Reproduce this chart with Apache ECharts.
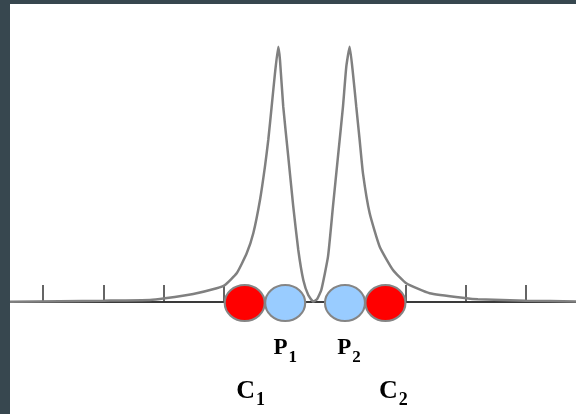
<!DOCTYPE html>
<html>
<head>
<meta charset="utf-8">
<script src="https://cdn.jsdelivr.net/npm/echarts@6/dist/echarts.min.js"></script>
<style>
  html, body { margin: 0; padding: 0; background: #fff; }
  #chart { width: 576px; height: 414px; }
</style>
</head>
<body>
<div id="chart"></div>
<script>
// tick positions along the axis
const tickValues = [-4, -3, -2, -1, 0, 1, 2, 3, 4];

// the double-peak curve (x in tick units, y height above axis)
const curveX = [-4.546, -3.719, -2.99, -2.228, -1.98, -1.512, -1.124, -0.987, -0.793, -0.627, -0.518, -0.407, -0.325,
  -0.27, -0.214, -0.159, -0.104, -0.076, -0.022, 0.061, 0.144, 0.227, 0.31, 0.392, 0.475,
  0.54, 0.608, 0.719, 0.801, 0.884, 0.967, 1.022, 1.078, 1.132, 1.187, 1.243, 1.298, 1.409,
  1.575, 1.795, 2.015, 2.402, 3.008, 3.202, 3.997, 4.825];
const curveY = [0.3, 0.8, 1.3, 2, 3.7, 8, 13.7, 17, 28.7, 48.7, 68.7, 102, 135.3,
  162, 195.3, 228.7, 255.3, 242, 195.3, 145.3, 95.3, 52, 22, 7, 0.5,
  3, 12, 45.3, 95.3, 145.3, 195.3, 235.3, 255.3, 228.7, 195.3, 162, 128.7, 88.7,
  55.3, 32, 18.7, 8.7, 3.7, 2.7, 1.3, 0.5];

// particles sitting on the axis
const particleNames = ['C1', 'P1', 'P2', 'C2'];
const particleX = [-0.66, 0.01, 1.0, 1.67];
const particleY = [-1, -1, -1, -1];

const chart = echarts.init(document.getElementById('chart'));

const curveData = curveX.map((x, i) => [x, curveY[i]]);

// label placement under each ellipse
const labelOffsets = {
  C1: [6, 89],
  P1: [0, 47],
  P2: [4, 47],
  C2: [8, 89]
};

const particleData = particleNames.map((name, i) => {
  const isC = name[0] === 'C';
  return {
    name: name,
    value: [particleX[i], particleY[i]],
    itemStyle: {
      color: isC ? '#ff0000' : '#99ccff'
    },
    label: {
      show: true,
      position: 'inside',
      offset: labelOffsets[name],
      formatter: '{m|' + name[0] + '}{s|' + name.slice(1) + '}',
      rich: {
        m: {
          fontFamily: 'Liberation Serif',
          fontWeight: 'bold',
          fontSize: isC ? 26 : 23,
          color: '#000',
          verticalAlign: 'top',
          lineHeight: isC ? 28 : 26
        },
        s: {
          fontFamily: 'Liberation Serif',
          fontWeight: 'bold',
          fontSize: isC ? 18 : 17,
          color: '#000',
          verticalAlign: 'top',
          lineHeight: 20,
          padding: [isC ? 13 : 12, 0, 0, 1]
        }
      }
    }
  };
});

chart.setOption({
  animation: false,
  backgroundColor: '#fff',
  grid: {
    left: 10,
    right: 0,
    top: 2,
    bottom: 0
  },
  xAxis: {
    type: 'value',
    min: -4.546,
    max: 4.825,
    axisLine: {
      onZero: true,
      lineStyle: { color: '#3a3a3a', width: 2 }
    },
    axisTick: {
      show: true,
      inside: true,
      length: 17,
      customValues: tickValues,
      lineStyle: { color: '#333', width: 1.5 }
    },
    axisLabel: { show: false },
    splitLine: { show: false }
  },
  yAxis: {
    type: 'value',
    min: -112,
    max: 300,
    show: false,
    splitLine: { show: false }
  },
  graphic: [
    {
      type: 'rect',
      left: 0,
      top: 0,
      z: 100,
      shape: { width: 10, height: 414 },
      style: { fill: '#37474f' }
    },
    {
      type: 'rect',
      left: 0,
      top: 0,
      z: 100,
      shape: { width: 576, height: 4 },
      style: { fill: '#37474f' }
    }
  ],
  series: [
    {
      type: 'line',
      data: curveData,
      showSymbol: false,
      smooth: 0.15,
      lineStyle: { color: '#808080', width: 2.5 },
      z: 2
    },
    {
      type: 'scatter',
      data: particleData,
      symbol: 'circle',
      symbolSize: [40, 36],
      itemStyle: {
        borderColor: '#858585',
        borderWidth: 2,
        opacity: 1
      },
      z: 3
    }
  ]
});
</script>
</body>
</html>
